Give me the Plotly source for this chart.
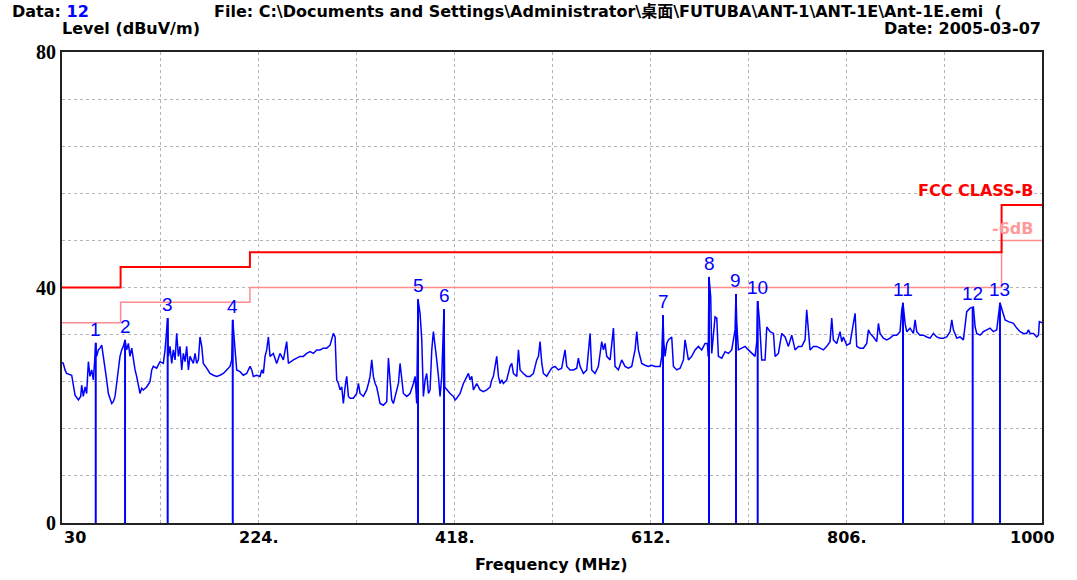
import plotly.graph_objects as go

# ---- measured trace (MHz, dBuV/m) ----
freq = [30.0, 31.3, 33.0, 34.6, 39.6, 41.2, 42.9, 46.2, 48.5, 49.5, 51.1, 52.8, 54.4, 56.1, 57.7, 59.4, 61.0,
        62.7, 63.4, 64.3, 66.0, 67.6, 69.3, 70.9, 72.6, 74.2, 75.9, 77.5, 79.2, 80.8, 82.5, 84.1, 85.8, 87.4,
        89.1, 90.7, 92.4, 94.0, 95.7, 97.3, 99.0, 100.6, 102.3, 103.9, 105.6, 107.2, 108.9, 110.5, 113.8,
        117.1, 118.8, 120.4, 123.7, 127.0, 130.3, 132.0, 134.6, 135.3, 136.9, 138.6, 140.2, 141.9, 143.5,
        145.2, 146.8, 148.5, 150.1, 151.8, 153.4, 155.1, 156.7, 160.0, 161.7, 163.3, 165.0, 166.6, 168.3,
        169.9, 173.2, 176.5, 179.8, 183.1, 186.4, 189.7, 193.0, 196.3, 198.0, 199.0, 201.3, 202.9, 206.2,
        209.5, 212.8, 216.1, 217.8, 219.4, 222.7, 226.0, 227.7, 229.3, 231.0, 232.6, 234.3, 235.9, 239.2,
        242.5, 245.8, 249.1, 252.4, 254.1, 259.0, 265.6, 268.9, 272.2, 275.5, 278.8, 282.1, 285.4, 288.7,
        292.0, 295.3, 298.6, 300.3, 301.9, 303.6, 305.2, 306.9, 308.5, 310.2, 311.8, 313.5, 315.1, 318.4,
        321.7, 323.4, 325.0, 328.3, 331.6, 333.3, 334.9, 336.6, 338.2, 339.9, 341.5, 344.8, 348.1, 351.4,
        353.1, 354.7, 356.4, 358.0, 361.3, 363.0, 364.6, 366.3, 367.9, 371.2, 374.5, 377.8, 379.5, 381.1,
        382.4, 384.4, 386.1, 387.7, 389.4, 391.0, 392.7, 394.3, 396.0, 397.6, 399.3, 400.9, 402.6, 404.2,
        405.9, 408.1, 408.8, 410.8, 414.1, 417.4, 419.1, 420.7, 424.0, 427.3, 430.6, 432.3, 433.9, 435.6,
        437.2, 440.5, 443.8, 447.1, 450.4, 453.7, 455.4, 457.0, 460.3, 462.0, 463.6, 465.3, 466.9, 470.2,
        473.5, 475.2, 476.8, 480.1, 481.8, 483.4, 486.7, 490.0, 493.3, 496.6, 499.9, 501.6, 503.2, 504.9,
        506.5, 509.8, 511.4, 514.7, 518.0, 521.3, 524.6, 527.9, 529.6, 532.9, 536.2, 539.5, 541.1, 542.8,
        546.1, 549.4, 552.7, 554.3, 557.6, 560.9, 564.2, 565.9, 567.5, 569.2, 572.5, 575.8, 577.4, 580.7,
        584.0, 587.3, 590.6, 593.9, 597.2, 598.9, 600.5, 603.8, 607.1, 610.4, 613.7, 617.0, 622.0, 623.6,
        624.9, 625.6, 626.9, 628.6, 630.2, 633.5, 635.2, 638.5, 641.8, 645.1, 646.7, 648.4, 650.0, 653.3,
        656.6, 659.9, 663.2, 666.5, 668.8, 669.6, 670.4, 672.1, 673.1, 676.4, 678.1, 679.7, 683.0, 686.3,
        689.6, 692.9, 694.6, 696.2, 697.1, 697.9, 699.5, 702.8, 706.1, 709.4, 712.7, 716.0, 717.7, 718.6,
        720.3, 722.6, 725.9, 727.6, 730.9, 734.2, 735.8, 739.1, 742.4, 745.7, 749.0, 752.3, 755.6, 758.9,
        762.2, 765.5, 767.1, 768.8, 770.4, 773.7, 777.0, 780.3, 783.6, 786.9, 790.2, 791.9, 793.5, 796.8,
        800.1, 801.8, 803.4, 806.7, 810.0, 813.3, 815.0, 816.6, 819.9, 823.2, 826.5, 828.2, 829.8, 833.1,
        836.4, 838.1, 839.7, 843.0, 846.3, 849.6, 852.9, 856.2, 859.5, 861.2, 862.4, 864.5, 866.1, 869.4,
        872.7, 874.4, 876.0, 879.3, 882.6, 885.9, 889.2, 892.5, 895.8, 899.1, 902.4, 905.7, 909.0, 910.7,
        912.3, 915.6, 918.9, 922.2, 923.9, 925.5, 928.8, 931.4, 932.1, 933.8, 935.4, 938.7, 942.0, 945.3,
        948.6, 951.9, 955.2, 958.4, 960.2, 963.5, 966.8, 971.7, 975.0, 978.3, 981.6, 984.9, 986.6, 988.2,
        991.5, 994.8, 996.5, 997.4, 1000.0]
level = [27.3, 27.1, 26.0, 25.4, 25.1, 23.7, 21.7, 20.9, 21.5, 23.4, 21.5, 23.1, 22.0, 27.4, 24.9, 26.0, 24.3,
         28.5, 30.6, 28.3, 29.4, 29.7, 30.2, 28.3, 26.6, 24.3, 22.0, 21.2, 20.3, 20.6, 21.5, 23.7, 26.6, 28.3,
         29.4, 30.0, 31.1, 29.4, 30.5, 28.3, 29.7, 27.7, 26.0, 24.9, 23.4, 22.0, 22.9, 22.6, 23.1,
         24.0, 26.0, 26.6, 26.3, 27.4, 27.1, 29.4, 34.8, 28.3, 30.0, 27.1, 29.4, 27.7, 32.2,
         28.3, 30.0, 26.0, 28.8, 27.4, 30.0, 26.0, 28.3, 27.1, 28.8, 27.1, 27.7, 31.6, 30.0,
         27.1, 26.3, 25.4, 25.1, 24.9, 25.1, 25.4, 26.0, 26.6, 27.7, 34.5, 29.4, 26.0, 25.7,
         25.1, 25.4, 26.6, 26.0, 24.9, 25.1, 24.9, 26.0, 25.4, 28.3, 29.4, 31.6, 28.3, 28.8,
         27.1, 28.8, 27.7, 30.8, 27.1, 27.7, 28.3, 28.3, 28.8, 29.1, 28.8, 29.4, 29.4, 29.7,
         29.7, 30.2, 32.2, 31.6, 24.3, 23.7, 22.6, 23.1, 20.3, 23.1, 24.9, 21.5, 21.2, 21.2,
         22.0, 23.7, 22.0, 21.5, 22.6, 23.7, 24.9, 27.7, 24.9, 23.7, 23.1, 20.3, 20.0, 20.6,
         28.0, 24.3, 20.9, 20.3, 22.6, 23.7, 27.1, 24.3, 22.0, 21.5, 22.0, 23.7, 24.9, 20.3,
         38.0, 35.6, 31.1, 21.5, 24.3, 25.4, 22.0, 22.6, 29.4, 32.5, 29.4, 27.7, 24.9, 21.5,
         24.9, 36.3, 23.1, 22.6, 22.0, 21.5, 20.9, 21.2, 22.0, 23.7, 24.9, 25.4, 24.3, 24.9,
         22.6, 23.7, 22.6, 22.3, 22.6, 23.1, 24.3, 24.9, 28.3, 24.9, 23.7, 24.3, 23.7, 24.3,
         26.6, 27.1, 25.4, 24.9, 29.4, 26.0, 25.4, 24.9, 24.9, 25.4, 27.7, 28.3, 30.8, 27.1,
         25.4, 24.9, 25.4, 26.3, 26.6, 26.0, 26.3, 29.4, 26.6, 26.0, 26.0, 26.3, 28.0, 26.6,
         25.4, 26.0, 32.2, 26.0, 25.4, 26.6, 30.8, 29.4, 30.5, 28.3, 27.7, 33.1, 26.6, 26.0,
         27.7, 26.6, 26.3, 26.6, 29.4, 32.5, 29.4, 27.1, 26.8, 26.6, 26.8, 26.6, 26.6, 28.3,
         35.3, 30.8, 28.3, 30.5, 31.1, 31.6, 26.6, 26.0, 26.3, 27.7, 31.1, 29.4, 27.7, 28.3,
         29.4, 30.0, 29.4, 30.5, 30.5, 28.3, 41.8, 38.4, 28.8, 35.0, 34.8, 28.3, 28.0, 29.1,
         28.8, 29.4, 31.1, 32.8, 38.9, 33.9, 29.4, 29.7, 30.0, 29.4, 28.8, 28.3, 30.8, 37.7,
         34.5, 27.7, 27.7, 33.3, 32.5, 32.2, 28.3, 28.8, 32.2, 31.6, 30.0, 31.9, 29.4, 30.0,
         30.0, 31.1, 36.2, 32.8, 29.4, 30.0, 30.0, 29.7, 29.4, 30.0, 30.8, 34.8, 31.1, 30.5,
         32.5, 30.8, 31.6, 30.2, 30.5, 33.9, 35.6, 30.0, 29.7, 29.7, 30.5, 32.8, 32.2, 31.6,
         30.8, 33.9, 32.2, 31.4, 31.1, 31.4, 31.9, 31.9, 32.5, 36.2, 37.4, 33.9, 32.5, 33.1,
         32.2, 34.5, 32.5, 31.9, 31.9, 31.6, 31.4, 32.2, 31.6, 31.4, 31.4, 31.6, 32.5, 34.5,
         32.8, 31.4, 31.6, 31.1, 34.2, 35.9, 36.5, 36.7, 36.7, 33.3, 32.2, 31.9, 32.5, 32.8,
         33.1, 32.5, 32.8, 37.4, 36.2, 34.5, 34.2, 33.9, 33.1, 32.5, 32.2, 32.2, 32.8, 32.2,
         32.2, 31.6, 31.9, 34.2, 34.0]

# ---- peak markers ----
marker_no = ["1", "2", "3", "4", "5", "6", "7", "8", "9", "10", "11", "12", "13"]
marker_freq = [63.4, 92.4, 134.6, 199.0, 382.4, 408.1, 624.9, 670.4, 697.1, 718.6, 862.4, 931.4, 958.4]
marker_level = [30.6, 31.1, 34.8, 34.5, 38.0, 36.3, 35.3, 41.8, 38.9, 37.7, 37.4, 36.7, 37.4]

# ---- FCC class B limit and -6 dB margin ----
limit_freq = [30, 88, 216, 960, 1000]
limit_level = [40.0, 43.5, 46.0, 54.0, 54.0]
margin_level = [34.0, 37.5, 40.0, 48.0, 48.0]

# ---- axis ticks ----
x_grid = [30, 127, 224, 321, 418, 515, 612, 709, 806, 903, 1000]
x_label_vals = [30, 224, 418, 612, 806, 1000]
x_label_text = ["30", "224.", "418.", "612.", "806.", "1000"]
y_grid = [0, 8, 16, 24, 32, 40, 48, 56, 64, 72, 80]
y_label_text = ["<b>0</b>", "", "", "", "", "<b>40</b>", "", "", "", "", "<b>80</b>"]

SANS = "DejaVu Sans, Liberation Sans, Noto Sans CJK SC, sans-serif"
NUMF = "Liberation Sans, Arial, sans-serif"
SERIF = "Liberation Serif, Times New Roman, serif"
BLUE = "#0000ff"

W, H = 1077, 580
ML, MR, MT, MB = 62, 35, 52, 57
PW, PH = W - ML - MR, H - MT - MB


def px(xp):
    return (xp - ML) / PW


def py(yp):
    return (H - MB - yp) / PH


fig = go.Figure()

fig.add_trace(go.Scatter(x=limit_freq, y=margin_level, mode="lines",
                         line=dict(color="#ff8c8c", width=1.5, shape="hv"), hoverinfo="skip", showlegend=False))
fig.add_trace(go.Scatter(x=limit_freq, y=limit_level, mode="lines",
                         line=dict(color="#ff0000", width=2, shape="hv"), hoverinfo="skip", showlegend=False))

mx, my = [], []
for f, v in zip(marker_freq, marker_level):
    mx += [f, f, None]
    my += [0, v, None]
fig.add_trace(go.Scatter(x=mx, y=my, mode="lines", line=dict(color=BLUE, width=2), showlegend=False))
fig.add_trace(go.Scatter(x=freq, y=level, mode="lines", line=dict(color=BLUE, width=1.5), showlegend=False))

ann = []
for n, f, v in zip(marker_no, marker_freq, marker_level):
    ann.append(dict(x=f, y=v, text=n, showarrow=False, xanchor="center", yanchor="bottom", yshift=1,
                    font=dict(family=NUMF, size=19, color=BLUE)))

for v, t in zip(x_label_vals, x_label_text):
    xa = "left" if v == 30 else "center"
    ann.append(dict(x=v, y=0, xref="x", yref="paper", text="<b>%s</b>" % t, showarrow=False, xanchor=xa,
                    yanchor="top", yshift=-3, xshift=(-10 if v == 1000 else 0),
                    font=dict(family=SANS, size=16, color="#000000")))

hdr = dict(family=SANS, size=16, color="#000")
ann += [
    dict(x=px(10), y=py(11), xref="paper", yref="paper",
         text="<b>Data: <span style='color:#0000ff'>12</span></b>",
         showarrow=False, xanchor="left", yanchor="middle", font=hdr),
    dict(x=px(212), y=py(11), xref="paper", yref="paper",
         text="<b>File: C:\\Documents and Settings\\Administrator\\桌面\\FUTUBA\\ANT-1\\ANT-1E\\Ant-1E.emi  (</b>",
         showarrow=False, xanchor="left", yanchor="middle", font=hdr),
    dict(x=px(60), y=py(28), xref="paper", yref="paper", text="<b>Level (dBuV/m)</b>",
         showarrow=False, xanchor="left", yanchor="middle", font=hdr),
    dict(x=px(1043), y=py(28), xref="paper", yref="paper", text="<b>Date: 2005-03-07</b>",
         showarrow=False, xanchor="right", yanchor="middle", font=hdr),
    dict(x=px(551), y=py(564), xref="paper", yref="paper", text="<b>Frequency (MHz)</b>",
         showarrow=False, xanchor="center", yanchor="middle", font=dict(family=SANS, size=16, color="#000")),
    dict(x=px(1035), y=py(190), xref="paper", yref="paper", text="<b>FCC CLASS-B</b>",
         showarrow=False, xanchor="right", yanchor="middle", font=dict(family=SANS, size=16, color="#ff0000")),
    dict(x=px(1035), y=py(228), xref="paper", yref="paper", text="<b>-6dB</b>",
         showarrow=False, xanchor="right", yanchor="middle", font=dict(family=SANS, size=16, color="#ff9a9a")),
]

fig.update_layout(
    width=W, height=H,
    margin=dict(l=ML, r=MR, t=MT, b=MB),
    paper_bgcolor="white", plot_bgcolor="white",
    font=dict(family=SANS, color="#000"),
    annotations=ann,
)

fig.update_xaxes(range=[30, 1000], tickvals=x_grid, showticklabels=False, showgrid=True, gridcolor="#b4b4b4",
                 griddash="dot", gridwidth=1, zeroline=False, showline=True, linecolor="#222", linewidth=2,
                 mirror=True, ticks="")
fig.update_yaxes(range=[0, 80], tickvals=y_grid, ticktext=y_label_text, showgrid=True, gridcolor="#b4b4b4",
                 griddash="dot", gridwidth=1, zeroline=False, showline=True, linecolor="#222", linewidth=2,
                 mirror=True, ticks="", tickfont=dict(family=SERIF, size=20, color="#000"))

fig.write_html("out.html", config={"displayModeBar": False},
               post_script="document.body.style.margin='0';")
